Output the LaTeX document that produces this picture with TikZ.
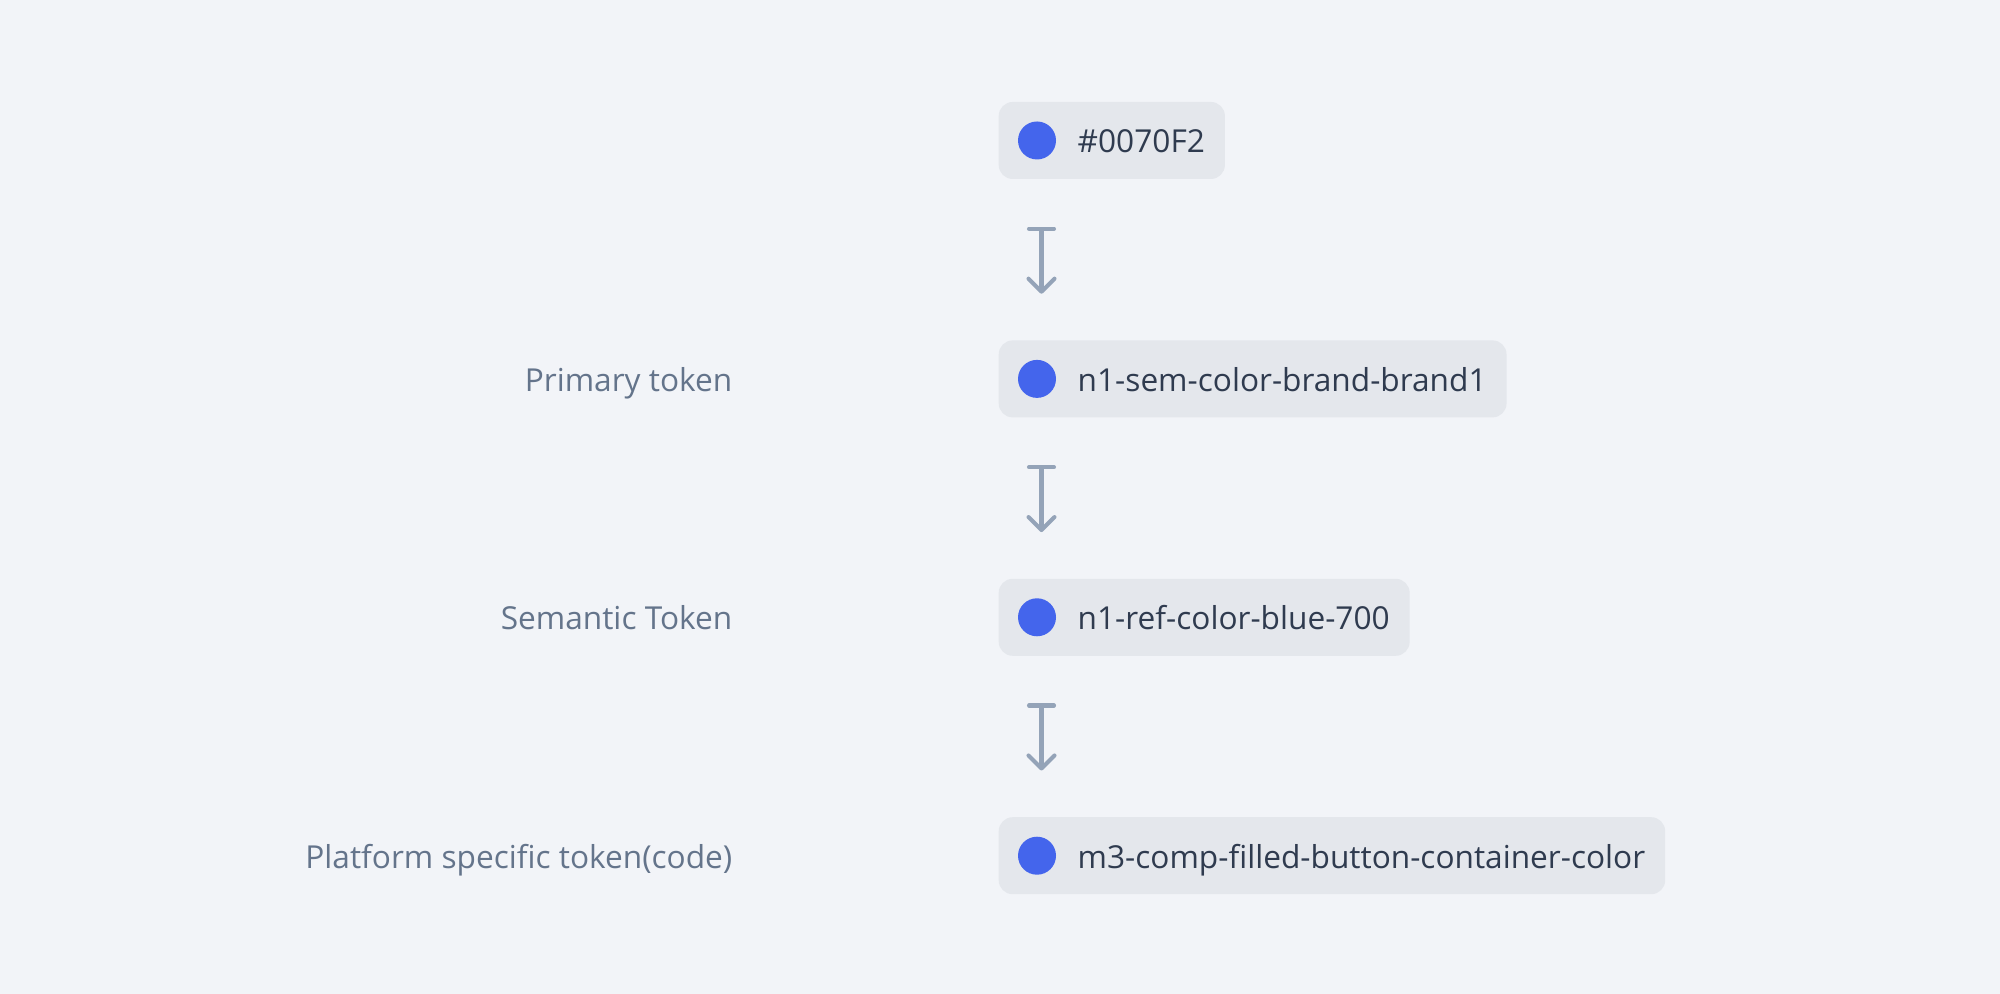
\documentclass[tikz,border=0pt]{standalone}
\usepackage{fontspec}
\setmainfont{Open Sans}
\usetikzlibrary{arrows.meta,positioning}

\definecolor{bgc}{HTML}{F2F4F8}
\definecolor{boxc}{HTML}{E4E7EC}
\definecolor{dotc}{HTML}{4465EC}
\definecolor{txtc}{HTML}{2F3B4F}
\definecolor{lblc}{HTML}{64748B}
\definecolor{arrc}{HTML}{94A3B8}

\begin{document}
\begin{tikzpicture}[font=\fontsize{9}{11}\selectfont,
  tok/.style={fill=boxc,rounded corners=0.14cm,minimum height=0.77cm,
    inner xsep=0.2cm,inner ysep=0pt,text=txtc,
    text height=0.96em,text depth=0.25em,anchor=west},
  lbl/.style={text=lblc,text height=0.96em,text depth=0.25em,inner sep=0pt},
  dot/.style={circle,fill=dotc,minimum size=0.38cm,inner sep=0pt},
  flow/.style={arrc,line width=1.15pt,line cap=round,
    {Bar[width=0.25cm,line cap=round]}-{Straight Barb[length=0.13cm,width=0.26cm,round]}},
]

% ============================================================
% Canvas
% ============================================================
\fill[bgc] (0,0) rectangle (20,9.94);
\useasboundingbox (0,0) rectangle (20,9.94);

\def\gap{1.6}
\def\ax{0.435}

% ============================================================
% Token chain
% ============================================================
\node[tok] (b1) at (9.98,8.535) {\hspace{0.59cm}\#0070F2};
\node[tok,anchor=north west] (b2) at ([yshift=-\gap cm]b1.south west)
  {\hspace{0.59cm}n1-sem-color-brand-brand1};
\node[tok,anchor=north west] (b3) at ([yshift=-\gap cm]b2.south west)
  {\hspace{0.59cm}n1-ref-color-blue-700};
\node[tok,anchor=north west] (b4) at ([yshift=-\gap cm]b3.south west)
  {\hspace{0.59cm}m3-comp-filled-button-container-color};

% Colour swatches
\foreach \b in {b1,b2,b3,b4}
  \node[dot] (d\b) at ([xshift=0.39cm]\b.west) {};

% Flow arrows
\draw[flow] ([xshift=\ax cm,yshift=-0.47cm]b1.south west)
  -- ([xshift=\ax cm,yshift=0.46cm]b2.north west);
\draw[flow] ([xshift=\ax cm,yshift=-0.47cm]b2.south west)
  -- ([xshift=\ax cm,yshift=0.46cm]b3.north west);
\draw[flow] ([xshift=\ax cm,yshift=-0.47cm]b3.south west)
  -- ([xshift=\ax cm,yshift=0.46cm]b4.north west);

% ============================================================
% Row labels
% ============================================================
\node[lbl,left=2.65cm of b2] (l2) {Primary token};
\node[lbl,left=2.65cm of b3] (l3) {Semantic Token};
\node[lbl,left=2.65cm of b4] (l4) {Platform specific token(code)};

\end{tikzpicture}
\end{document}
